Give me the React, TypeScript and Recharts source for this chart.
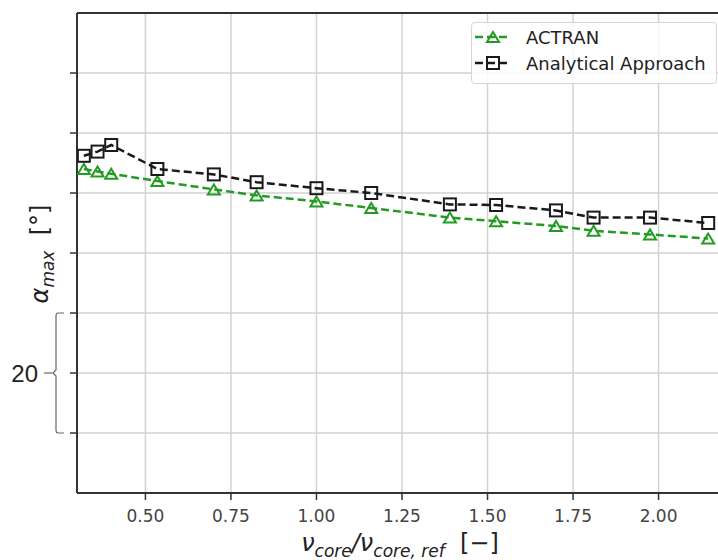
import React from 'react';
import {
  LineChart,
  Line,
  XAxis,
  YAxis,
  CartesianGrid,
  ReferenceLine
} from 'recharts';

// values (x = nu_core / nu_core,ref, y = alpha_max in degrees)
const xValues = [0.32, 0.36, 0.40, 0.535, 0.70, 0.825, 1.00, 1.16, 1.39, 1.525, 1.70, 1.81, 1.975, 2.145];
const actranValues = [37.0, 36.8, 36.6, 36.0, 35.3, 34.8, 34.3, 33.75, 32.95, 32.65, 32.25, 31.85, 31.55, 31.2];
const analyticalValues = [38.1, 38.45, 39.0, 37.0, 36.55, 35.9, 35.4, 35.0, 34.05, 34.0, 33.55, 32.95, 32.95, 32.5];

const xTicks = [0.5, 0.75, 1.0, 1.25, 1.5, 1.75, 2.0];
const yTicks = [15, 20, 25, 30, 35, 40, 45];
const yLabelled = [20];

const data = xValues.map((x, i) => ({
  x,
  actran: actranValues[i],
  analytical: analyticalValues[i],
}));

const GREEN = '#239b23';
const BLACK = '#1a1a1a';
const SPINE = '#333';
const GRID = '#d2d2d2';
const FONT = '"DejaVu Sans", sans-serif';

// plot: 480px high split in 8 tick intervals
const TICK_PX = 60;

const square = (props: any) => {
  const { cx, cy, index } = props;
  return (
    <rect key={`sq-${index}`} x={cx - 6} y={cy - 6} width={12} height={12}
      fill="none" stroke={BLACK} strokeWidth={2} />
  );
};

const triangle = (props: any) => {
  const { cx, cy, index } = props;
  return (
    <path key={`tr-${index}`} d={`M${cx},${cy - 5} L${cx - 6},${cy + 5} L${cx + 6},${cy + 5} Z`}
      fill="none" stroke={GREEN} strokeWidth={2} />
  );
};

// only "20" is labelled, with the brace around it
const YTick = (props: any) => {
  const { x, y, payload } = props;
  if (!yLabelled.includes(payload.value)) return <g />;
  const bx = x - 12;
  return (
    <g>
      <text x={x - 30} y={y} dy="0.36em" textAnchor="end" fontSize={24}
        fontFamily='"Liberation Sans", Arial, sans-serif' fill="#222">
        {payload.value}
      </text>
      <line x1={x - 24} x2={x - 16} y1={y} y2={y} stroke="#666" strokeWidth={1.2} />
      <path
        d={`M${bx + 8},${y - TICK_PX} L${bx + 2},${y - TICK_PX} Q${bx},${y - TICK_PX} ${bx},${y - TICK_PX + 3}
           L${bx},${y - 3} L${bx - 3},${y} L${bx},${y + 3}
           L${bx},${y + TICK_PX - 3} Q${bx},${y + TICK_PX} ${bx + 2},${y + TICK_PX} L${bx + 8},${y + TICK_PX}`}
        fill="none" stroke="#666" strokeWidth={1.2} />
    </g>
  );
};

const XLabel = (props: any) => {
  const vb = props.viewBox || {};
  const cx = (vb.x || 77) + (vb.width || 650) / 2;
  return (
    <text x={cx - 2} y={551} textAnchor="middle" fontFamily={FONT} fill="#222">
      <tspan fontSize={24} fontStyle="italic">ν</tspan>
      <tspan fontSize={17} fontStyle="italic" dy={6}>core</tspan>
      <tspan fontSize={24} fontStyle="italic" dy={-6}>/ν</tspan>
      <tspan fontSize={17} fontStyle="italic" dy={6}>core, ref</tspan>
      <tspan fontSize={24} dy={-6}>{'\u00a0\u00a0[−]'}</tspan>
    </text>
  );
};

const YLabel = () => (
  <text x={48} y={254} transform="rotate(-90 48 254)" textAnchor="middle" fontFamily={FONT} fill="#222">
    <tspan fontSize={24} fontStyle="italic">α</tspan>
    <tspan fontSize={17} fontStyle="italic" dy={6}>max</tspan>
    <tspan fontSize={24} dy={-6}>{'\u00a0\u00a0[°]'}</tspan>
  </text>
);

const legendRows = [
  { name: 'ACTRAN', color: GREEN, marker: 'tri' },
  { name: 'Analytical Approach', color: BLACK, marker: 'sq' },
];

const ChartLegend = () => (
  <div style={{
    position: 'absolute', left: 471, top: 22, width: 246,
    border: '1px solid #d6d6d6', borderRadius: 4, background: 'rgba(255,255,255,0.85)',
    padding: '1px 0 7px 3px', fontFamily: FONT, boxSizing: 'border-box'
  }}>
    {legendRows.map((r) => (
      <div key={r.name} style={{ height: 26, display: 'flex', alignItems: 'center' }}>
        <svg width={36} height={26}>
          <line x1={0} x2={36} y1={13} y2={13} stroke={r.color} strokeWidth={2.5} strokeDasharray="8 4" />
          {r.marker === 'sq'
            ? <rect x={12} y={7} width={12} height={12} fill="none" stroke={r.color} strokeWidth={2} />
            : <path d="M18,8 L12,18 L24,18 Z" fill="none" stroke={r.color} strokeWidth={2} />}
        </svg>
        <span style={{ marginLeft: 15, fontSize: 18, color: '#222', whiteSpace: 'nowrap' }}>{r.name}</span>
      </div>
    ))}
  </div>
);

export default function App() {
  return (
    <div style={{ position: 'absolute', left: 0, top: 0, width: 718, height: 560, overflow: 'hidden', background: '#fff' }}>
      <LineChart width={727} height={560} data={data} margin={{ top: 13, right: 0, bottom: 0, left: 0 }}>
        <CartesianGrid stroke={GRID} strokeWidth={1.5} />
        <XAxis
          dataKey="x"
          type="number"
          domain={[0.3, 2.2]}
          ticks={xTicks}
          allowDataOverflow
          height={67}
          tickFormatter={(v: number) => v.toFixed(2)}
          tick={{ fontSize: 17, fill: '#444', fontFamily: FONT }}
          tickSize={7}
          tickMargin={10}
          tickLine={{ stroke: SPINE, strokeWidth: 1.5 }}
          axisLine={{ stroke: SPINE, strokeWidth: 2 }}
          label={<XLabel />}
        />
        <YAxis
          type="number"
          domain={[10, 50]}
          ticks={yTicks}
          allowDataOverflow
          width={77}
          tick={<YTick />}
          tickSize={7}
          tickLine={{ stroke: SPINE, strokeWidth: 1.5 }}
          axisLine={{ stroke: SPINE, strokeWidth: 2 }}
          label={<YLabel />}
        />
        <ReferenceLine y={50} stroke={SPINE} strokeWidth={2} />
        <Line
          dataKey="actran"
          stroke={GREEN}
          strokeWidth={2.5}
          strokeDasharray="8 4"
          dot={triangle}
          isAnimationActive={false}
        />
        <Line
          dataKey="analytical"
          stroke={BLACK}
          strokeWidth={2.5}
          strokeDasharray="8 4"
          dot={square}
          isAnimationActive={false}
        />
      </LineChart>
      <ChartLegend />
    </div>
  );
}
